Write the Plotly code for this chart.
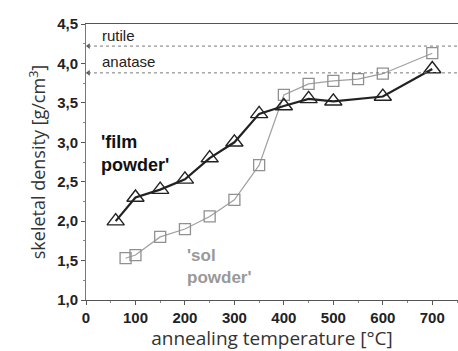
import plotly.graph_objects as go

film_x = [60, 100, 150, 200, 250, 300, 350, 400, 450, 500, 600, 700]
film_y = [2.00, 2.30, 2.40, 2.53, 2.80, 3.00, 3.36, 3.46, 3.55, 3.52, 3.58, 3.93]
sol_x = [80, 100, 150, 200, 250, 300, 350, 400, 450, 500, 550, 600, 700]
sol_y = [1.53, 1.57, 1.80, 1.90, 2.06, 2.27, 2.71, 3.60, 3.74, 3.78, 3.80, 3.87, 4.13]
ref_names = ["rutile", "anatase"]
ref_vals = [4.22, 3.88]
y_ticks = [1.0, 1.5, 2.0, 2.5, 3.0, 3.5, 4.0, 4.5]
y_labels = ["1,0", "1,5", "2,0", "2,5", "3,0", "3,5", "4,0", "4,5"]
x_ticks = [0, 100, 200, 300, 400, 500, 600, 700]

fig = go.Figure()
fig.add_trace(go.Scatter(
    x=sol_x, y=sol_y, mode="lines+markers",
    line=dict(color="#a0a0a0", width=1.2),
    marker=dict(symbol="square-open", size=11, color="#909090", line=dict(width=1.3)),
    showlegend=False))
fig.add_trace(go.Scatter(
    x=film_x, y=film_y, mode="lines+markers",
    line=dict(color="#222222", width=2.2),
    marker=dict(symbol="triangle-up-open", size=15, color="#222222", line=dict(width=1.4)),
    showlegend=False))

for val in ref_vals:
    fig.add_shape(type="line", xref="x", yref="y", x0=4, x1=752, y0=val, y1=val,
                  line=dict(color="#777777", width=1, dash="dot"))
fig.add_trace(go.Scatter(
    x=[5] * len(ref_vals), y=ref_vals, mode="markers",
    marker=dict(symbol="triangle-left", size=5, color="#555555"),
    showlegend=False, hoverinfo="skip"))

label_y = [4.36, 4.02]
for name, ly in zip(ref_names, label_y):
    fig.add_annotation(x=28, y=ly, text=name, showarrow=False, xanchor="left",
                       font=dict(family="Liberation Sans", size=15, color="#222222"))
fig.add_annotation(x=27, y=2.86, text="<b>'film<br>powder'</b>", showarrow=False, xanchor="left",
                   align="left", font=dict(family="Liberation Sans", size=18, color="#111111"))
fig.add_annotation(x=200, y=1.42, text="<b>'sol<br>powder'</b>", showarrow=False, xanchor="left",
                   align="left", font=dict(family="Liberation Sans", size=17, color="#999999"))

fig.update_layout(
    width=458, height=351,
    margin=dict(l=86, r=0, t=24, b=51),
    plot_bgcolor="white", paper_bgcolor="white",
    xaxis=dict(range=[0, 752], tickvals=x_ticks, showgrid=False, zeroline=False,
               showline=True, linecolor="#555555", linewidth=1, mirror=True,
               ticks="outside", ticklen=4, tickcolor="#555555",
               minor=dict(dtick=50, ticks="outside", ticklen=2, tickcolor="#888888"),
               tickfont=dict(family="Liberation Sans", size=15, color="#222222", weight="bold"),
               title=dict(text="annealing temperature [°C]", standoff=2,
                          font=dict(family="Open Sans", size=19, color="#333333"))),
    yaxis=dict(range=[1.0, 4.5], tickvals=y_ticks, ticktext=y_labels, showgrid=False,
               zeroline=False, showline=True, linecolor="#777777", linewidth=1,
               ticks="outside", ticklen=4, tickcolor="#555555",
               minor=dict(dtick=0.25, ticks="outside", ticklen=2, tickcolor="#888888"),
               tickfont=dict(family="Liberation Sans", size=15, color="#222222", weight="bold"),
               title=dict(text="skeletal density [g/cm<sup>3</sup>]", standoff=6,
                          font=dict(family="Open Sans", size=18, color="#333333"))),
)

fig.write_html("out.html")
